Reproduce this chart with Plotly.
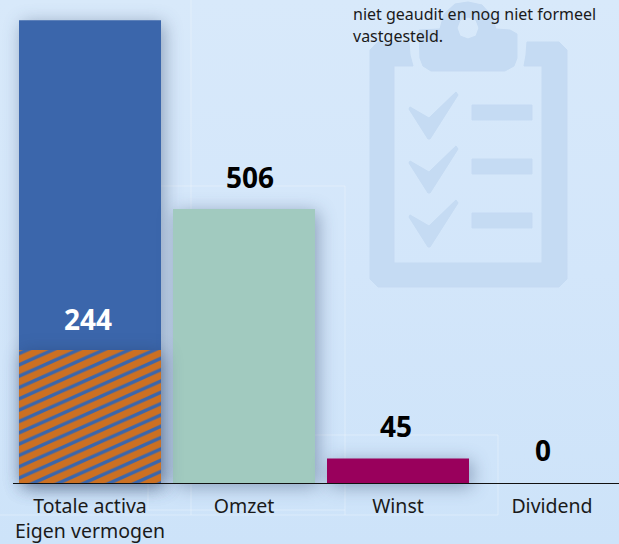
import plotly.graph_objects as go

categories = ["Totale activa<br>Eigen vermogen", "Omzet", "Winst", "Dividend"]
totals = [854, 506, 46, 0]
bar_colors = ["#3b66ab", "#a1cabf", "#99005c", "#99005c"]
equity = [246]
value_labels = ["244", "506", "45", "0"]
label_values = [244, 506, 45, 0]
note_lines = ["niet geaudit en nog niet formeel", "vastgesteld."]

W, H = 619, 544
BASE = 483.5
K = 0.5425
FONT = "Noto Sans"
ICON = "#c5dbf3"


def px(x):
    return x / W


def py(y):
    return 1 - y / H


def path(points):
    return "M" + " L".join(f"{px(x):.5f},{py(y):.5f}" for x, y in points) + " Z"


shapes = []
# faint white guide lines of the page background
for x0, y0, x1, y1 in [
    (191, 0, 191, 209), (161, 186, 345, 186), (345, 186, 345, 515),
    (315, 435, 498, 435), (498, 435, 498, 515), (148, 484, 148, 510),
    (148, 510, 345, 510), (191, 484, 191, 515), (0, 515, 498, 515),
]:
    shapes.append(dict(type="line", xref="paper", yref="paper", layer="below",
                       x0=px(x0), x1=px(x1), y0=py(y0), y1=py(y1),
                       line=dict(color="rgba(255,255,255,0.3)", width=1)))

# clipboard watermark
board = [(378, 42), (409, 42), (410, 55), (413, 66), (394, 66), (394, 263), (542, 263),
         (542, 66), (524, 66), (526, 55), (527, 42), (559, 42), (567, 50), (567, 279),
         (559, 287), (378, 287), (370, 279), (370, 50)]
clip = [(419, 30), (440, 29), (444, 14), (455, 4), (468, 2), (482, 5), (491, 15), (496, 29),
        (510, 30), (517, 34), (517, 58), (514, 66), (505, 71), (431, 71), (423, 66), (420, 58)]
hole = [(468 + dx, 28 + dy) for dx, dy in [(0, -11), (8, -8), (11, 0), (8, 8), (0, 11), (-8, 8), (-11, 0), (-8, -8)]]
icon_paths = [path(board), path(clip) + " " + path(hole)]
for off in (0, 54, 108):
    icon_paths.append(path([(410, 107 + off), (429, 118 + off), (456, 92 + off), (458, 95 + off),
                            (430, 139 + off), (428, 139 + off), (409, 109 + off)]))
    icon_paths.append(path([(472, 105 + off), (532, 105 + off), (532, 120 + off), (472, 120 + off)]))
for d in icon_paths:
    shapes.append(dict(type="path", xref="paper", yref="paper", layer="below", path=d,
                       fillcolor=ICON, line=dict(color=ICON, width=1)))

fig = go.Figure()
fig.add_bar(x=[0, 1, 2, 3], y=totals, width=142 / 154, marker=dict(color=bar_colors, line_width=0))
fig.add_bar(x=[0], y=equity, width=142 / 154,
            marker=dict(color="#cc7022", line_width=0,
                        pattern=dict(shape="/", size=8, solidity=0.33,
                                     fgcolor="#3b66ab", bgcolor="#cc7022", fillmode="replace")))
fig.add_scatter(x=[-77 / 154, 529 / 154], y=[0, 0], mode="lines",
                line=dict(color="#111111", width=1), hoverinfo="skip")

annotations = []
for i, (txt, val) in enumerate(zip(value_labels, label_values)):
    dx = [-2, 6, -2, -9][i]
    yy = val + [32, 32, 33, 34][i] / K
    annotations.append(dict(x=i, y=yy, text=f"<b>{txt}</b>", showarrow=False, xshift=dx,
                            font=dict(family=FONT, size=28, color="#ffffff" if i == 0 else "#000000"),
                            xanchor="center", yanchor="middle"))
for i, line in enumerate(note_lines):
    annotations.append(dict(xref="paper", yref="paper", x=px(351), y=py(14 + i * 22), text=line,
                            showarrow=False, xanchor="left", yanchor="middle",
                            font=dict(family=FONT, size=16, color="#1a1a1a")))

fig.update_layout(
    width=W, height=H, margin=dict(l=0, r=0, t=0, b=0, autoexpand=False), showlegend=False, barmode="overlay",
    paper_bgcolor="rgba(0,0,0,0)", plot_bgcolor="rgba(0,0,0,0)",
    shapes=shapes, annotations=annotations,
    xaxis=dict(range=[-90 / 154, 529 / 154], tickmode="array", tickvals=[0, 1, 2, 3], ticktext=categories,
               anchor="free", position=(H - BASE) / H, showgrid=False, zeroline=False, showline=False,
               automargin=False, ticks="outside", ticklen=5, tickcolor="rgba(0,0,0,0)",
               tickfont=dict(family=FONT, size=19.5, color="#1a1a1a")),
    yaxis=dict(range=[-(H - BASE) / K, BASE / K], visible=False, showgrid=False, zeroline=False, automargin=False),
)

post = """
document.documentElement.style.margin='0';
document.body.style.margin='0';
document.body.style.background='linear-gradient(180deg,#d8e9fa 0%,#d3e6fa 50%,#cde3f9 100%)';
document.querySelectorAll('pattern').forEach(function(p){p.setAttribute('patternTransform','scale(2.25,1)');});
document.querySelectorAll('.trace.bars .point path').forEach(function(p){
  p.style.filter='drop-shadow(3px 3px 9px rgba(30,50,90,0.4))';
});
"""
fig.write_html("out.html", post_script=post, config=dict(displayModeBar=False))
